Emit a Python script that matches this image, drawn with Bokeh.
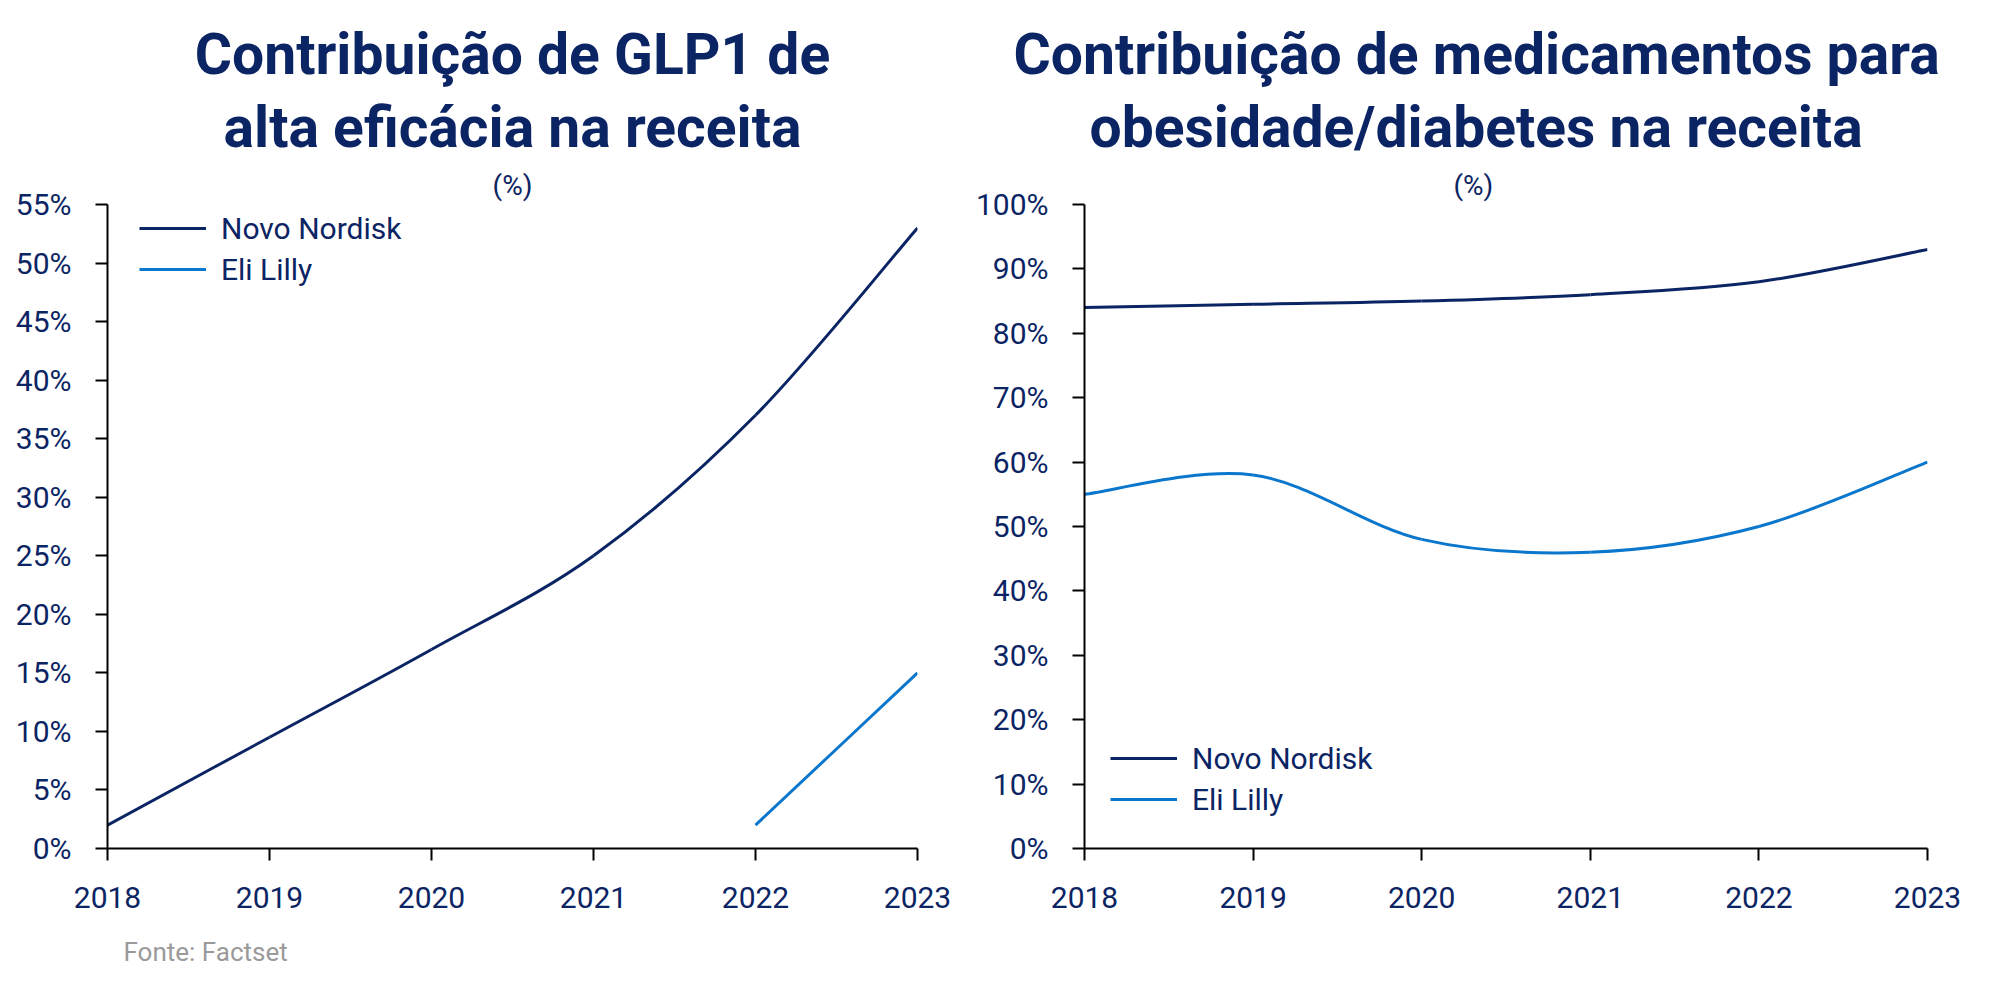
from bokeh.plotting import figure
from bokeh.models import (Range1d, FixedTicker, PrintfTickFormatter, Legend, LegendItem,
                          ColumnDataSource, Title, Label)
from bokeh.layouts import row, column
from bokeh.embed import file_html
from bokeh.resources import INLINE

# ---- data ----
years = [2018, 2019, 2020, 2021, 2022, 2023]
glp1_novo = [2, 9.5, 17, 25, 37, 53]
glp1_lilly_years = [2022, 2023]
glp1_lilly = [2, 15]
obes_novo = [84, 84.5, 85, 86, 88, 93]
obes_lilly = [55, 58, 48, 46, 50, 60]
left_yticks = [0, 5, 10, 15, 20, 25, 30, 35, 40, 45, 50, 55]
right_yticks = [0, 10, 20, 30, 40, 50, 60, 70, 80, 90, 100]
series_names = ["Novo Nordisk", "Eli Lilly"]
left_title = ["Contribuição de GLP1 de", "alta eficácia na receita"]
right_title = ["Contribuição de medicamentos para", "obesidade/diabetes na receita"]
unit_label = "(%)"
source_label = "Fonte: Factset"

NAVY = "#0b2463"
BLUE = "#0b77cc"
FONT = "Roboto"


def smooth_source(xs, ys):
    """Bezier segments (Catmull-Rom style smoothing) between the data points."""
    n = len(xs)
    P = list(zip(xs, ys))
    d = dict(x0=[], y0=[], x1=[], y1=[], cx0=[], cy0=[], cx1=[], cy1=[])
    for i in range(n - 1):
        p0 = P[i - 1] if i > 0 else P[i]
        p1 = P[i]
        p2 = P[i + 1]
        p3 = P[i + 2] if i + 2 < n else P[i + 1]
        d["x0"].append(p1[0]); d["y0"].append(p1[1])
        d["x1"].append(p2[0]); d["y1"].append(p2[1])
        d["cx0"].append(p1[0] + (p2[0] - p0[0]) / 6)
        d["cy0"].append(p1[1] + (p2[1] - p0[1]) / 6)
        d["cx1"].append(p2[0] - (p3[0] - p1[0]) / 6)
        d["cy1"].append(p2[1] - (p3[1] - p1[1]) / 6)
    return ColumnDataSource(d)


def title(text, size, style, standoff, align="center", offset=0, color=NAVY):
    return Title(text=text, align=align, offset=offset, standoff=standoff,
                 text_font=FONT, text_font_size=size, text_font_style=style,
                 text_color=color)


def make_fig(width, ymax, yticks, title_lines, title_aligns, series, legend_loc,
             b_left, b_right):
    p = figure(width=width, height=930, output_backend="svg", toolbar_location=None,
               x_range=Range1d(years[0], years[-1]), y_range=Range1d(0, ymax),
               min_border_left=b_left, min_border_right=b_right,
               min_border_top=204, min_border_bottom=82)
    p.outline_line_color = None
    p.grid.grid_line_color = None
    p.background_fill_color = "white"
    p.border_fill_color = "white"

    for ax in (p.xaxis[0], p.yaxis[0]):
        ax.axis_line_color = "black"
        ax.axis_line_width = 2
        ax.major_tick_line_color = "black"
        ax.major_tick_line_width = 2
        ax.minor_tick_line_color = None
        ax.major_tick_in = 0
        ax.major_tick_out = 12
        ax.major_label_text_font = FONT
        ax.major_label_text_font_size = "30px"
        ax.major_label_text_color = NAVY
    p.xaxis.ticker = FixedTicker(ticks=years)
    p.yaxis.ticker = FixedTicker(ticks=yticks)
    p.yaxis.formatter = PrintfTickFormatter(format="%d%%")
    p.xaxis.major_label_standoff = 26
    p.yaxis.major_label_standoff = 24

    items = []
    for (name, xs, ys, color) in series:
        r = p.bezier(x0="x0", y0="y0", x1="x1", y1="y1", cx0="cx0", cy0="cy0",
                     cx1="cx1", cy1="cy1", source=smooth_source(xs, ys),
                     line_color=color, line_width=3)
        items.append(LegendItem(label=name, renderers=[r]))
    leg = Legend(items=items, location=legend_loc, background_fill_alpha=0,
                 border_line_color=None, padding=0, margin=0, spacing=5,
                 glyph_width=67, glyph_height=36, label_height=36,
                 label_standoff=15, label_text_font=FONT,
                 label_text_font_size="30px", label_text_color=NAVY)
    p.add_layout(leg)

    (a0, o0), (a1, o1), (a2, o2) = title_aligns
    # panels above are stacked from the frame outwards
    p.add_layout(title(unit_label, "28px", "normal", 5, align=a2, offset=o2), "above")
    p.add_layout(title(title_lines[1], "57px", "bold", 8, align=a1, offset=o1), "above")
    p.add_layout(title(title_lines[0], "57px", "bold", 0, align=a0, offset=o0), "above")
    return p


p1 = make_fig(972, 55, left_yticks, left_title,
              [("center", 0), ("center", 0), ("center", 0)],
              [(series_names[0], years, glp1_novo, NAVY),
               (series_names[1], glp1_lilly_years, glp1_lilly, BLUE)],
              (32, 561), 107, 55)
p2 = make_fig(1020, 100, right_yticks, right_title,
              [("left", -71), ("left", 5), ("left", 369)],
              [(series_names[0], years, obes_novo, NAVY),
               (series_names[1], years, obes_lilly, BLUE)],
              (26, 31), 110, 65)

# footer strip with the source note
foot = figure(width=600, height=50, output_backend="svg", toolbar_location=None,
              x_range=Range1d(0, 1), y_range=Range1d(0, 1), min_border=0,
              x_axis_type=None, y_axis_type=None)
foot.outline_line_color = None
foot.grid.visible = False
foot.add_layout(Label(x=123, y=29, x_units="screen", y_units="screen", text=source_label,
                      text_font=FONT, text_font_size="26px", text_color="#9a9a9a",
                      text_align="left", text_baseline="alphabetic"))

layout = column(row(p1, p2), foot)
open("out.html", "w").write(file_html(layout, INLINE))
